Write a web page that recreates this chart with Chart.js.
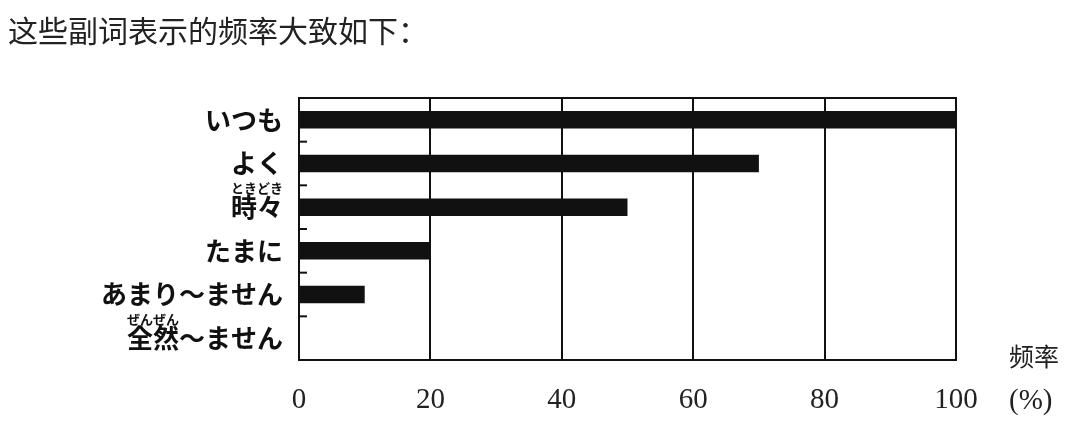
<!DOCTYPE html>
<html>
<head>
<meta charset="utf-8">
<script src="https://cdn.jsdelivr.net/npm/chart.js@4"></script>
<style>
html,body{margin:0;padding:0;background:#fff;}
#wrap{width:1067px;height:429px;position:relative;}
</style>
</head>
<body>
<div id="wrap"><canvas id="c" width="1067" height="429"></canvas></div>
<script>
const titleText = '这些副词表示的频率大致如下：';
const categories = ['いつも', 'よく', '時々', 'たまに', 'あまり～ません', '全然～ません'];
const frequency = [100, 70, 50, 20, 10, 0];
const furigana = ['', '', 'ときどき', '', '', 'ぜんぜん'];
const furiganaBase = ['', '', '時々', '', '', '全然'];
const xTickValues = [0, 20, 40, 60, 80, 100];
const axisNameTop = '频率';
const axisNameBottom = '(%)';

const INK = '#111';
const JP_FONT = "'Noto Sans CJK JP', 'Noto Sans', sans-serif";
const SERIF = "'Liberation Serif', 'DejaVu Serif', serif";
const LABEL_SIZE = 26;
const LABEL_WEIGHT = '600';

const decorPlugin = {
  id: 'decor',
  afterDraw(chart) {
    const ctx = chart.ctx;
    const a = chart.chartArea;
    const ys = chart.scales.y;
    ctx.save();
    // frame
    ctx.strokeStyle = INK;
    ctx.lineWidth = 2;
    ctx.strokeRect(a.left, a.top, a.right - a.left, a.bottom - a.top);
    // inward ticks at category boundaries
    for (let i = 0; i < categories.length - 1; i++) {
      const y = (ys.getPixelForValue(i) + ys.getPixelForValue(i + 1)) / 2;
      ctx.beginPath();
      ctx.moveTo(a.left, y);
      ctx.lineTo(a.left + 8, y);
      ctx.stroke();
    }
    // furigana
    const labelFont = LABEL_WEIGHT + ' ' + LABEL_SIZE + 'px ' + JP_FONT;
    const rightEdge = ys.right - ys.options.ticks.padding;
    for (let i = 0; i < categories.length; i++) {
      if (!furigana[i]) continue;
      ctx.font = labelFont;
      const fullW = ctx.measureText(categories[i]).width;
      const baseW = ctx.measureText(furiganaBase[i]).width;
      const cx = rightEdge - fullW + baseW / 2;
      const cy = ys.getPixelForValue(i) - 19;
      ctx.font = '600 13px ' + JP_FONT;
      ctx.fillStyle = INK;
      ctx.textAlign = 'center';
      ctx.textBaseline = 'middle';
      ctx.fillText(furigana[i], cx, cy);
    }
    // axis name at right
    ctx.fillStyle = '#222';
    ctx.textAlign = 'left';
    ctx.textBaseline = 'middle';
    ctx.font = "400 25px 'Noto Sans CJK SC', sans-serif";
    ctx.fillText(axisNameTop, 1009, 356);
    ctx.font = '400 29px ' + SERIF;
    ctx.fillText(axisNameBottom, 1009, 401);
    ctx.restore();
  }
};

new Chart(document.getElementById('c'), {
  type: 'bar',
  data: {
    labels: categories,
    datasets: [{
      data: frequency,
      backgroundColor: INK,
      borderWidth: 0,
      barPercentage: 0.4,
      categoryPercentage: 1
    }]
  },
  options: {
    indexAxis: 'y',
    responsive: false,
    animation: false,
    layout: { padding: { left: 8, right: 111, top: 0, bottom: 0 } },
    plugins: {
      legend: { display: false },
      tooltip: { enabled: false },
      title: {
        display: true,
        text: titleText,
        align: 'start',
        color: '#222',
        font: { family: "'Noto Sans CJK SC', sans-serif", size: 30, weight: '400' },
        padding: { top: 13, bottom: 49 }
      }
    },
    scales: {
      x: {
        type: 'linear',
        min: 0,
        max: 100,
        afterBuildTicks(scale) { scale.ticks = xTickValues.map(v => ({ value: v })); },
        grid: { color: INK, lineWidth: 2, drawTicks: false },
        border: { display: true, color: INK, width: 2 },
        ticks: {
          color: '#222',
          padding: 23,
          font: { family: SERIF, size: 29 }
        },
        afterFit(scale) { scale.height = 69; }
      },
      y: {
        grid: { display: false, drawTicks: false, tickLength: 0 },
        border: { display: true, color: INK, width: 2 },
        ticks: {
          color: INK,
          padding: 16,
          font: { family: JP_FONT, size: LABEL_SIZE, weight: LABEL_WEIGHT }
        },
        afterFit(scale) { scale.width = 291; }
      }
    }
  },
  plugins: [decorPlugin]
});
</script>
</body>
</html>
